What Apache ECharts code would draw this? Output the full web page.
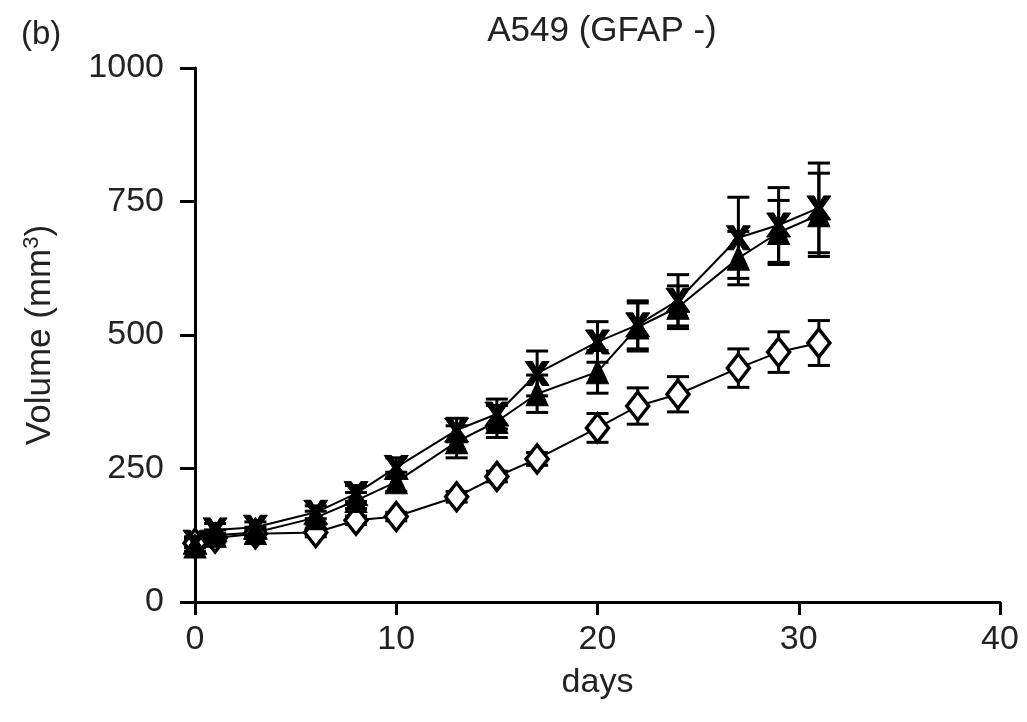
<!DOCTYPE html>
<html>
<head>
<meta charset="utf-8">
<script src="https://cdn.jsdelivr.net/npm/echarts@6/dist/echarts.min.js"></script>
<style>
  html, body { margin: 0; padding: 0; background: #fff; }
  #main { width: 1027px; height: 722px; }
</style>
</head>
<body>
<div id="main"></div>
<script>
var days = [0, 1, 3, 6, 8, 10, 13, 15, 17, 20, 22, 24, 27, 29, 31];

var crossVol = [112, 135, 140, 168, 203, 252, 322, 352, 428, 487, 519, 565, 682, 706, 738];
var crossErr = [10, 12, 10, 12, 15, 18, 22, 28, 42, 38, 45, 48, 76, 70, 84];

var triVol = [105, 125, 130, 158, 190, 225, 300, 338, 390, 431, 515, 552, 644, 692, 725];
var triErr = [10, 10, 10, 12, 15, 18, 30, 30, 35, 40, 45, 40, 50, 60, 78];

var diaVol = [110, 120, 128, 130, 153, 160, 197, 235, 268, 326, 367, 389, 438, 468, 485];
var diaErr = [8, 8, 8, 8, 8, 8, 10, 10, 12, 27, 34, 33, 36, 38, 42];

var xTicks = [0, 10, 20, 30, 40];
var yTicks = [0, 250, 500, 750, 1000];

var FONT = "'Liberation Sans', Arial, sans-serif";
var crossPath = 'path://M0,0 L6,0 L10,7 L14,0 L20,0 L13,10 L20,20 L14,20 L10,13 L6,20 L0,20 L7,10 Z';

function pairs(vals) {
  return days.map(function (d, i) { return [d, vals[i]]; });
}
function errData(vals, errs) {
  return days.map(function (d, i) { return [d, vals[i] - errs[i], vals[i] + errs[i]]; });
}

function errRender(params, api) {
  var lo = api.coord([api.value(0), api.value(1)]);
  var hi = api.coord([api.value(0), api.value(2)]);
  var w = 11;
  var st = { stroke: '#000', lineWidth: 3 };
  return {
    type: 'group',
    children: [
      { type: 'line', shape: { x1: lo[0], y1: lo[1], x2: hi[0], y2: hi[1] }, style: st },
      { type: 'line', shape: { x1: lo[0] - w, y1: lo[1], x2: lo[0] + w, y2: lo[1] }, style: st },
      { type: 'line', shape: { x1: hi[0] - w, y1: hi[1], x2: hi[0] + w, y2: hi[1] }, style: st }
    ]
  };
}

function errSeries(vals, errs) {
  return {
    type: 'custom',
    renderItem: errRender,
    data: errData(vals, errs),
    encode: { x: 0, y: [1, 2] },
    z: 1,
    silent: true
  };
}

var chart = echarts.init(document.getElementById('main'), null, { renderer: 'canvas' });

var option = {
  backgroundColor: '#fff',
  animation: false,
  title: [
    {
      text: 'A549 (GFAP -)',
      left: 597, top: 9, textAlign: 'center',
      textStyle: { fontFamily: FONT, fontSize: 35, fontWeight: 'normal', color: '#222' }
    },
    {
      text: '(b)',
      left: 16, top: 13,
      textStyle: { fontFamily: FONT, fontSize: 33, fontWeight: 'normal', color: '#222' }
    }
  ],
  grid: { left: 195, right: 27, top: 68, bottom: 120, containLabel: false },
  xAxis: {
    type: 'value',
    min: 0, max: 40, interval: 10,
    name: 'days',
    nameLocation: 'middle',
    nameGap: 64,
    nameTextStyle: { fontFamily: FONT, fontSize: 34, color: '#222' },
    axisLine: { show: true, lineStyle: { color: '#000', width: 3 } },
    axisTick: { show: true, length: 13, lineStyle: { color: '#000', width: 3 } },
    axisLabel: {
      fontFamily: FONT, fontSize: 34, color: '#222', margin: 21,
      formatter: function (v) { return xTicks.indexOf(v) >= 0 ? String(v) : ''; }
    },
    splitLine: { show: false }
  },
  yAxis: {
    type: 'value',
    min: 0, max: 1000, interval: 250,
    name: 'Volume (mm{sup|3})',
    nameLocation: 'middle',
    nameRotate: 90,
    nameGap: 136,
    nameTextStyle: {
      fontFamily: FONT, fontSize: 35, color: '#222',
      rich: { sup: { fontFamily: FONT, fontSize: 22, color: '#222', verticalAlign: 'top', padding: [0, 0, 16, 0] } }
    },
    axisLine: { show: true, onZero: false, lineStyle: { color: '#000', width: 3 } },
    axisTick: { show: true, length: 15, lineStyle: { color: '#000', width: 3 } },
    axisLabel: {
      fontFamily: FONT, fontSize: 34, color: '#222', margin: 31,
      formatter: function (v) { return yTicks.indexOf(v) >= 0 ? String(v) : ''; }
    },
    splitLine: { show: false }
  },
  series: [
    errSeries(diaVol, diaErr),
    errSeries(triVol, triErr),
    errSeries(crossVol, crossErr),
    {
      name: 'diamond',
      type: 'line',
      data: pairs(diaVol),
      symbol: 'diamond',
      symbolSize: [22, 28],
      showAllSymbol: true,
      lineStyle: { color: '#000', width: 2 },
      itemStyle: { color: '#fff', borderColor: '#000', borderWidth: 3.5 },
      z: 3
    },
    {
      name: 'triangle',
      type: 'line',
      data: pairs(triVol),
      symbol: 'triangle',
      symbolSize: [22, 24],
      showAllSymbol: true,
      lineStyle: { color: '#000', width: 2 },
      itemStyle: { color: '#000', borderColor: '#000', borderWidth: 1 },
      z: 3
    },
    {
      name: 'cross',
      type: 'line',
      data: pairs(crossVol),
      symbol: crossPath,
      symbolSize: [24, 24],
      showAllSymbol: true,
      lineStyle: { color: '#000', width: 2 },
      itemStyle: { color: '#000', borderColor: '#000', borderWidth: 1 },
      z: 4
    }
  ]
};

chart.setOption(option);
</script>
</body>
</html>
